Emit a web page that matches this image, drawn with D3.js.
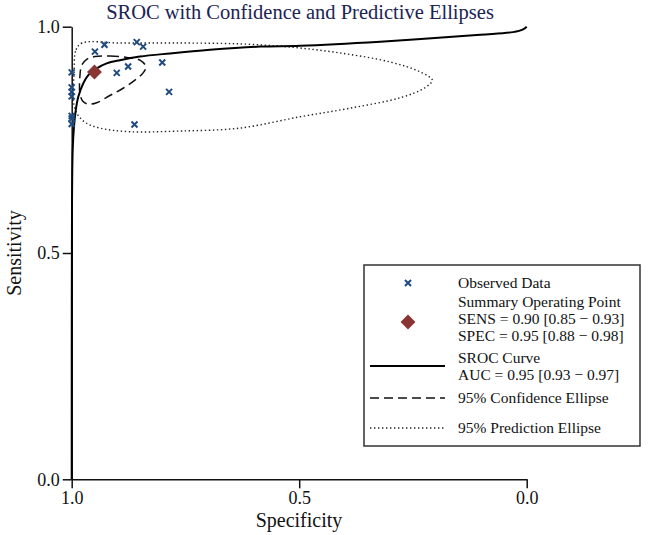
<!DOCTYPE html>
<html><head><meta charset="utf-8">
<script src="https://cdn.jsdelivr.net/npm/d3@7"></script>
<style>
html,body{margin:0;padding:0;background:#fff;}
svg{display:block;font-family:"Liberation Serif","Times New Roman",serif;}
svg text{font-family:"Liberation Serif","Times New Roman",serif;}
</style></head>
<body><svg id="c" width="650" height="535"></svg>
<script>
// ---- data (specificity, sensitivity) ----
const obsSpec = [1.0,1.0,1.0,1.0,1.0,1.0,1.0,0.949,0.928,0.857,0.843,0.901,0.876,0.801,0.786,0.862];
const obsSens = [0.899,0.866,0.856,0.846,0.803,0.797,0.785,0.945,0.960,0.966,0.956,0.898,0.912,0.921,0.856,0.784];
const summarySpec = 0.95, summarySens = 0.90;
const srocSpec = [1.0,0.9998,0.9993,0.9978,0.995,0.991,0.9855,0.9745,0.9635,0.945,0.923,0.894,0.850,0.784,0.696,0.586,0.498,0.322,0.102,0.030,0.008,0.0];
const srocSens = [0.0,0.396,0.617,0.728,0.779,0.816,0.845,0.875,0.893,0.908,0.919,0.926,0.934,0.941,0.949,0.956,0.958,0.967,0.982,0.988,0.994,1.0];
const confSpec = [0.949,0.916,0.879,0.850,0.837,0.843,0.861,0.887,0.916,0.945,0.964,0.976,0.982,0.982,0.978,0.967];
const confSens = [0.934,0.935,0.932,0.926,0.912,0.898,0.882,0.864,0.848,0.832,0.829,0.836,0.853,0.890,0.915,0.928];
const predSpec = [0.995,0.9905,0.977,0.894,0.762,0.630,0.520,0.410,0.300,0.234,0.2075,0.224,0.278,0.388,0.498,0.630,0.762,0.872,0.938,0.971,0.9905,0.997];
const predSens = [0.893,0.949,0.964,0.964,0.964,0.962,0.955,0.942,0.922,0.900,0.882,0.865,0.843,0.820,0.801,0.776,0.7695,0.768,0.776,0.789,0.812,0.845];
const tickVals = [0, 0.5, 1.0];
const titleText = "SROC with Confidence and Predictive Ellipses";
const legendLabels = ["Observed Data","Summary Operating Point","SENS = 0.90 [0.85 \u2212 0.93]","SPEC = 0.95 [0.88 \u2212 0.98]","SROC Curve","AUC = 0.95 [0.93 \u2212 0.97]","95% Confidence Ellipse","95% Prediction Ellipse"];

const FONT = "Liberation Serif";
const svg = d3.select("#c");
const x = d3.scaleLinear().domain([1,0]).range([71.7,526.7]);
const y = d3.scaleLinear().domain([0,1]).range([479.3,26.7]);
const ptColor = "#1f4a80", diaColor = "#8b3434";

// axes
const fmt = d3.format(".1f");
const gx = svg.append("g").attr("transform","translate(0,479.3)")
  .call(d3.axisBottom(x).tickValues(tickVals).tickFormat(fmt).tickSize(9).tickSizeOuter(0).tickPadding(3));
const gy = svg.append("g").attr("transform","translate(71.7,0)")
  .call(d3.axisLeft(y).tickValues(tickVals).tickFormat(fmt).tickSize(9).tickSizeOuter(0).tickPadding(3));
[gx,gy].forEach(g=>{
  g.attr("font-family",FONT);
  g.selectAll("path,line").attr("stroke","#111").attr("stroke-width",1.5);
  g.selectAll("text").attr("font-family",FONT).attr("font-size",18).attr("fill","#111");
});

// title & axis labels
svg.append("text").attr("x",300).attr("y",19).attr("text-anchor","middle").attr("font-family",FONT)
  .attr("font-size",20.5).attr("fill","#1c2355").text(titleText);
svg.append("text").attr("x",299).attr("y",527).attr("text-anchor","middle").attr("font-family",FONT)
  .attr("font-size",20).attr("fill","#111").text("Specificity");
svg.append("text").attr("transform","translate(21,253) rotate(-90)").attr("text-anchor","middle").attr("font-family",FONT)
  .attr("font-size",20).attr("fill","#111").text("Sensitivity");

// prediction ellipse
const closed = d3.line().x(d=>x(d[0])).y(d=>y(d[1])).curve(d3.curveCatmullRomClosed);
svg.append("path").datum(d3.zip(predSpec,predSens)).attr("d",closed)
  .attr("fill","none").attr("stroke","#222").attr("stroke-width",1.4).attr("stroke-dasharray","1.4,2.6");
// confidence ellipse
svg.append("path").datum(d3.zip(confSpec,confSens)).attr("d",closed)
  .attr("fill","none").attr("stroke","#111").attr("stroke-width",1.5).attr("stroke-dasharray","9,5");
// SROC curve
svg.append("path").datum(d3.zip(srocSpec,srocSens)).attr("d",d3.line().x(d=>x(d[0])).y(d=>y(d[1])).curve(d3.curveCatmullRom))
  .attr("fill","none").attr("stroke","#000").attr("stroke-width",2);

// observed points
function cross(g,cx,cy,s){
  g.append("path").attr("d",`M${cx-s},${cy-s}L${cx+s},${cy+s}M${cx-s},${cy+s}L${cx+s},${cy-s}`)
   .attr("stroke",ptColor).attr("stroke-width",2).attr("fill","none");
}
const gp = svg.append("g");
d3.zip(obsSpec,obsSens).forEach(d=>cross(gp,x(d[0]),y(d[1]),3));

// summary diamond
svg.append("path").attr("d",d3.symbol(d3.symbolSquare,110)())
  .attr("transform",`translate(${x(summarySpec)},${y(summarySens)}) rotate(45)`).attr("fill",diaColor);

// legend
const lg = svg.append("g");
lg.append("rect").attr("x",364).attr("y",265).attr("width",276).attr("height",181)
  .attr("fill","#fff").attr("stroke","#333").attr("stroke-width",1.5);
cross(lg,408,283,3);
lg.append("path").attr("d",d3.symbol(d3.symbolSquare,110)()).attr("transform","translate(408,322) rotate(45)").attr("fill",diaColor);
lg.append("line").attr("x1",370).attr("x2",445).attr("y1",366).attr("y2",366).attr("stroke","#000").attr("stroke-width",2);
lg.append("line").attr("x1",370).attr("x2",445).attr("y1",398).attr("y2",398).attr("stroke","#111").attr("stroke-width",1.5).attr("stroke-dasharray","9,5");
lg.append("line").attr("x1",370).attr("x2",445).attr("y1",428).attr("y2",428).attr("stroke","#222").attr("stroke-width",1.4).attr("stroke-dasharray","1.4,2.6");
const ly = [288,307,324,341,363,380,403,433];
legendLabels.forEach((t,i)=>lg.append("text").attr("x",458).attr("y",ly[i]).attr("font-family",FONT).attr("font-size",15.5).attr("fill","#111").text(t));
</script></body></html>
